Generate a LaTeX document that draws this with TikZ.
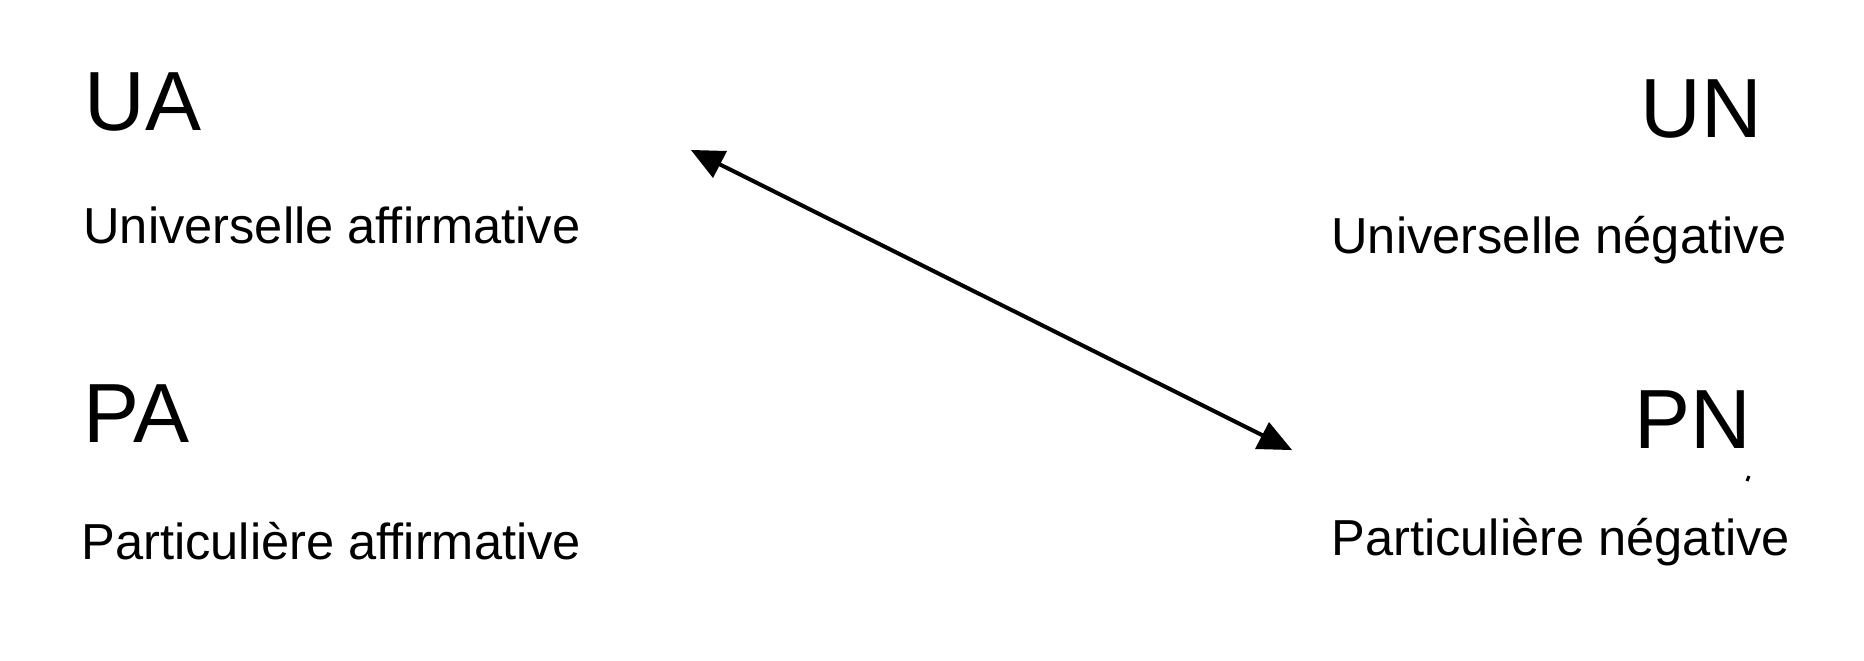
\documentclass[tikz,border=0pt]{standalone}
\usepackage{fontspec}
\setmainfont{Liberation Sans}
\begin{document}
\begin{tikzpicture}[x=0.5pt,y=-0.5pt,
  big/.style={inner sep=0pt,anchor=base west,font=\fontsize{42}{49}\selectfont},
  small/.style={inner sep=0pt,anchor=base west,font=\fontsize{25.3}{30}\selectfont},
  link/.style={line width=2pt,black},
  head/.style={fill=black}]
\useasboundingbox (0,0) rectangle (1864,660);
\fill[white] (0,0) rectangle (1864,660);
\node[big] (UA) at (84,130) {UA};
\node[small] (UAt) at (83,243) {Universelle affirmative};
\node[big] (UN) at (1640,137) {UN};
\node[small] (UNt) at (1331,253) {Universelle négative};
\node[big] (PA) at (83,442) {PA};
\node[small] (PAt) at (81,559) {Particulière affirmative};
\node[big] (PN) at (1634,448) {PN};
\node[small] (PNt) at (1331,555) {Particulière négative};
\coordinate (a1) at (691,150);
\coordinate (a2) at (1292,450);
\draw[link] ([shift={(14,7)}]a1) -- ([shift={(-14,-7)}]a2);
\fill[head] (a1) -- ++(36,1) -- ++(-14,27) -- cycle;
\fill[head] (a2) -- ++(-37,-1) -- ++(14,-27) -- cycle;
\draw[line width=1.5pt] (1747,481) -- (1749,476);
\end{tikzpicture}
\end{document}
